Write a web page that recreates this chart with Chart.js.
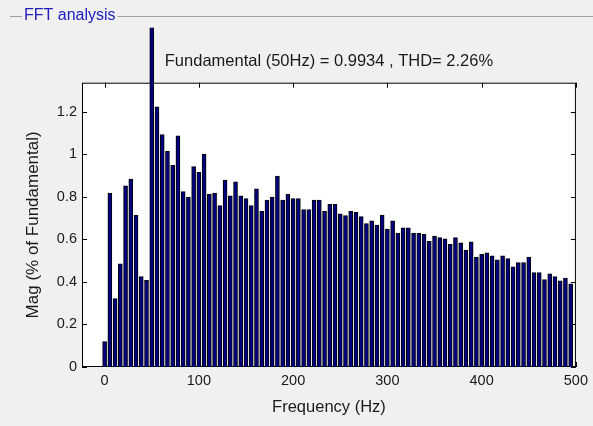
<!DOCTYPE html>
<html>
<head>
<meta charset="utf-8">
<script src="https://cdn.jsdelivr.net/npm/chart.js@4/dist/chart.umd.min.js"></script>
<style>
  html, body { margin: 0; padding: 0; background: #f0f0f0; }
  #wrap { width: 593px; height: 426px; }
</style>
</head>
<body>
<div id="wrap"><canvas id="fft" width="593" height="426"></canvas></div>
<script>
// FFT spectrum, magnitude in % of the fundamental (bin width 50/9 Hz)
const binHz = 50 / 9;
const mag = [
  0.119, 0.817, 0.322, 0.485, 0.851, 0.883, 0.714, 0.425, 0.407, 100,
  1.223, 1.092, 1.014, 0.948, 1.086, 0.824, 0.798, 0.942, 0.915, 1.0,
  0.812, 0.817, 0.759, 0.878, 0.804, 0.870, 0.804, 0.792, 0.759, 0.837,
  0.732, 0.784, 0.798, 0.897, 0.784, 0.812, 0.792, 0.792, 0.740, 0.740,
  0.784, 0.784, 0.732, 0.765, 0.765, 0.720, 0.712, 0.731, 0.727, 0.707,
  0.674, 0.687, 0.667, 0.714, 0.648, 0.687, 0.629, 0.654, 0.654, 0.629,
  0.629, 0.623, 0.590, 0.615, 0.608, 0.602, 0.577, 0.608, 0.583, 0.549,
  0.588, 0.516, 0.529, 0.537, 0.523, 0.504, 0.523, 0.510, 0.471, 0.491,
  0.491, 0.516, 0.444, 0.444, 0.411, 0.438, 0.425, 0.405, 0.418, 0.391
];
const freqs = mag.map((_, k) => k * binHz);
const xTicks = [0, 100, 200, 300, 400, 500];
const yTicks = [0, 0.2, 0.4, 0.6, 0.8, 1, 1.2];
const titleText = 'Fundamental (50Hz) = 0.9934 , THD= 2.26%';
const panelText = 'FFT analysis';

const FONT = "'Liberation Sans', Arial, sans-serif";

// white axes box, MATLAB style inward ticks, and the group box caption
const axesBox = {
  id: 'axesBox',
  beforeDatasetsDraw(chart) {
    const { ctx, chartArea: a, scales } = chart;
    ctx.save();
    ctx.fillStyle = '#ffffff';
    ctx.fillRect(a.left, a.top, a.right - a.left, a.bottom - a.top);
    ctx.strokeStyle = '#000000';
    ctx.lineWidth = 1;
    ctx.strokeRect(a.left + 0.5, a.top + 0.5, a.right - a.left - 1, a.bottom - a.top - 1);
    ctx.beginPath();
    const len = 5;
    xTicks.forEach(v => {
      const x = Math.round(scales.x.getPixelForValue(v)) + 0.5;
      ctx.moveTo(x, a.top); ctx.lineTo(x, a.top + len);
      ctx.moveTo(x, a.bottom); ctx.lineTo(x, a.bottom - len);
    });
    yTicks.forEach(v => {
      const y = Math.round(scales.y.getPixelForValue(v)) + 0.5;
      ctx.moveTo(a.left, y); ctx.lineTo(a.left + len, y);
      ctx.moveTo(a.right, y); ctx.lineTo(a.right - len, y);
    });
    ctx.stroke();
    ctx.restore();
  },
  afterDraw(chart) {
    const { ctx } = chart;
    ctx.save();
    ctx.font = '16px ' + FONT;
    const w = ctx.measureText(panelText).width;
    ctx.strokeStyle = '#a0a0a0';
    ctx.lineWidth = 1;
    ctx.beginPath();
    ctx.moveTo(10, 16.5); ctx.lineTo(22, 16.5);
    ctx.moveTo(26 + w, 16.5); ctx.lineTo(593, 16.5);
    ctx.stroke();
    ctx.fillStyle = '#2020c0';
    ctx.textBaseline = 'middle';
    ctx.fillText(panelText, 24, 16);
    ctx.restore();
  }
};

new Chart(document.getElementById('fft'), {
  type: 'bar',
  data: {
    datasets: [{
      data: freqs.map((f, i) => ({ x: f, y: mag[i] })),
      backgroundColor: '#000080',
      borderColor: '#000000',
      borderWidth: 1,
      barThickness: 4,
      clip: { left: 0, top: 55, right: 0, bottom: 0 }
    }]
  },
  options: {
    responsive: false,
    animation: false,
    layout: { padding: { left: 0, right: 14, top: 0, bottom: 0 } },
    plugins: {
      legend: { display: false },
      tooltip: { enabled: false },
      title: {
        display: true,
        text: titleText,
        fullSize: false,
        color: '#1a1a1a',
        font: { family: FONT, size: 16.5, weight: 'normal' },
        padding: { top: 51.8, bottom: 11.1 }
      }
    },
    scales: {
      x: {
        type: 'linear',
        offset: false,
        min: -24,
        max: 500,
        afterBuildTicks: s => { s.ticks = xTicks.map(v => ({ value: v })); },
        afterFit: s => { s.height = 59; },
        ticks: {
          color: '#1a1a1a',
          font: { family: FONT, size: 14.5 },
          padding: 5,
          maxRotation: 0,
          callback: v => String(v)
        },
        grid: { display: false, drawTicks: false, offset: false },
        border: { display: false },
        title: {
          display: true,
          text: 'Frequency (Hz)',
          color: '#1a1a1a',
          font: { family: FONT, size: 16.5 },
          padding: { top: 0, bottom: 8.8 }
        }
      },
      y: {
        min: 0,
        max: 1.336,
        afterBuildTicks: s => { s.ticks = yTicks.map(v => ({ value: v })); },
        afterFit: s => { s.width = 82; },
        ticks: {
          color: '#1a1a1a',
          font: { family: FONT, size: 14.5 },
          padding: 5,
          callback: v => String(v)
        },
        grid: { display: false, drawTicks: false },
        border: { display: false },
        title: {
          display: true,
          text: 'Mag (% of Fundamental)',
          color: '#1a1a1a',
          font: { family: FONT, size: 17 },
          padding: { top: 23.3, bottom: 0 }
        }
      }
    }
  },
  plugins: [axesBox]
});
</script>
</body>
</html>
